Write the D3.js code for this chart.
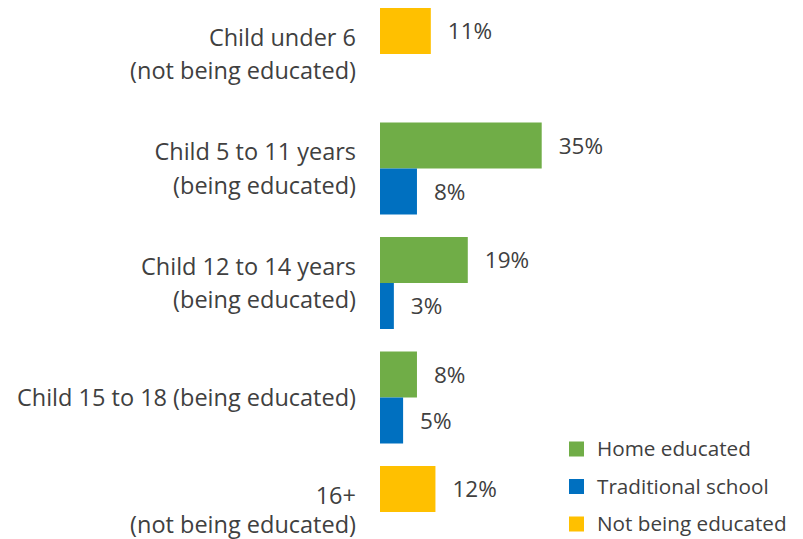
<!DOCTYPE html>
<html>
<head>
<meta charset="utf-8">
<script src="https://cdn.jsdelivr.net/npm/d3@7/dist/d3.min.js"></script>
<style>
  html, body { margin: 0; padding: 0; background: #ffffff; }
  svg { display: block; font-family: "Open Sans", sans-serif; }
</style>
</head>
<body>
<svg id="chart" width="803" height="539"></svg>
<script>
// Category labels (each entry is the list of lines drawn for that category)
const categories = ["under6", "5to11", "12to14", "15to18", "16plus"];
const categoryLines = [
  ["Child under 6", "(not being educated)"],
  ["Child 5 to 11 years", "(being educated)"],
  ["Child 12 to 14 years", "(being educated)"],
  ["Child 15 to 18 (being educated)"],
  ["16+", "(not being educated)"]
];

// Percent values per series (null = no bar in that category)
const homeEducated      = [null, 35, 19, 8, null];
const traditionalSchool = [null, 8, 3, 5, null];
const notBeingEducated  = [11, null, null, null, 12];

const seriesNames  = ["Home educated", "Traditional school", "Not being educated"];
const seriesColors = ["#70AD47", "#0070C0", "#FFC000"];

const textColor = "#404040";
const width = 803, height = 539;
const svg = d3.select("#chart");

// Horizontal value scale (percent)
const x = d3.scaleLinear().domain([0, 40]).range([380, 380 + 4.62 * 40]);

// Vertical category bands, each split into two bar slots
const y = d3.scaleBand()
  .domain(categories)
  .range([-3.25, 569.25])
  .paddingInner(22.5 / 114.5)
  .paddingOuter(22.5 / 114.5 / 2);
const slot = d3.scaleBand().domain(["top", "bottom"]).range([0, y.bandwidth()]);

// Flatten series into bar records
const bars = [];
categories.forEach((c, i) => {
  if (homeEducated[i] != null) bars.push({ cat: c, value: homeEducated[i], slot: "top", color: seriesColors[0] });
  if (traditionalSchool[i] != null) bars.push({ cat: c, value: traditionalSchool[i], slot: "bottom", color: seriesColors[1] });
  if (notBeingEducated[i] != null) bars.push({ cat: c, value: notBeingEducated[i], slot: "top", color: seriesColors[2] });
});

svg.append("g").selectAll("rect")
  .data(bars)
  .join("rect")
  .attr("x", x(0))
  .attr("y", d => y(d.cat) + slot(d.slot))
  .attr("width", d => x(d.value) - x(0))
  .attr("height", slot.bandwidth())
  .attr("fill", d => d.color);

// Value labels
svg.append("g").selectAll("text")
  .data(bars)
  .join("text")
  .attr("x", d => x(d.value) + 17)
  .attr("y", d => y(d.cat) + slot(d.slot) + slot.bandwidth() / 2 + 8)
  .attr("fill", textColor)
  .attr("font-size", 22.5)
  .text(d => d.value + "%");

// Category labels, right-aligned next to the bars
const catG = svg.append("g");
const lineGap = 33.5;
const maxBaseline = height - 6;
categories.forEach((c, i) => {
  const lines = categoryLines[i];
  const center = y(c) + y.bandwidth() / 2;
  const firstBase = center - (lines.length - 1) * lineGap / 2 + 8.3;
  let gap = lineGap;
  // squeeze the lines if the last one would run past the bottom edge
  if (lines.length > 1 && firstBase + (lines.length - 1) * gap > maxBaseline) {
    gap = (maxBaseline - firstBase) / (lines.length - 1);
  }
  const t = catG.append("text")
    .attr("text-anchor", "end")
    .attr("fill", textColor)
    .attr("font-size", 23.5);
  lines.forEach((ln, j) => {
    t.append("tspan")
      .attr("x", 356)
      .attr("y", firstBase + j * gap)
      .text(ln);
  });
});

// Legend
const legend = svg.append("g");
seriesNames.forEach((name, i) => {
  const cy = 449 + i * 37.5;
  legend.append("rect")
    .attr("x", 569).attr("y", cy - 7.5)
    .attr("width", 15).attr("height", 15)
    .attr("fill", seriesColors[i]);
  legend.append("text")
    .attr("x", 597).attr("y", cy + 7)
    .attr("fill", textColor)
    .attr("font-size", 20.7)
    .text(name);
});
</script>
</body>
</html>
